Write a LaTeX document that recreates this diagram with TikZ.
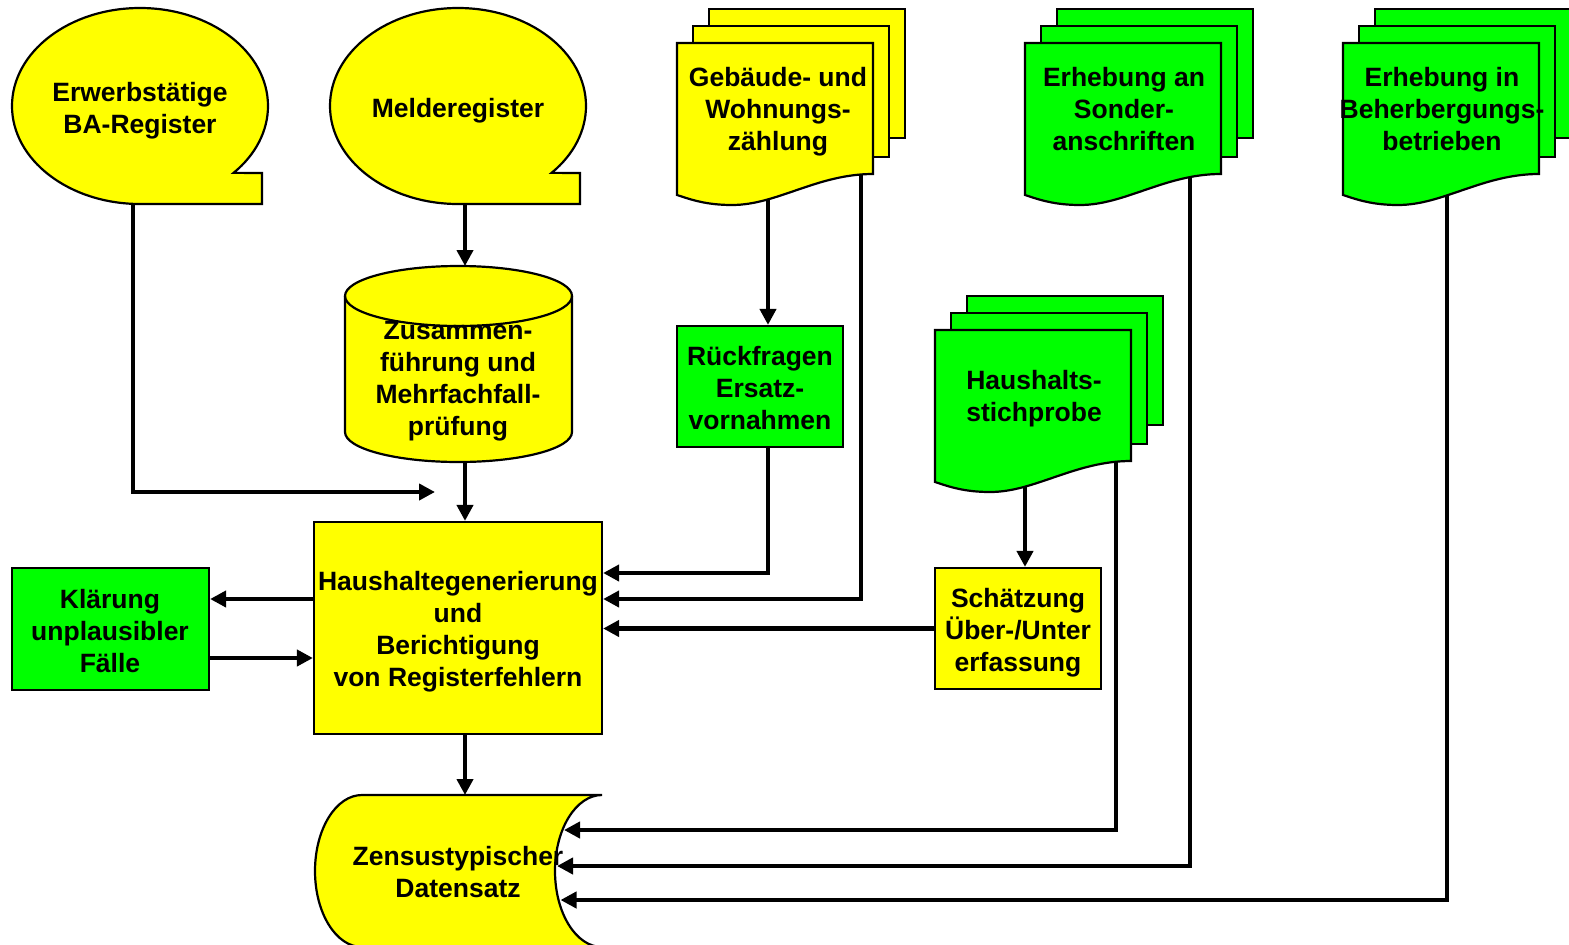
\documentclass[tikz,border=0pt]{standalone}
\usepackage{fontspec}
\setmainfont{Liberation Sans}
\usetikzlibrary{arrows.meta}
\definecolor{yel}{HTML}{FFFF00}
\definecolor{grn}{HTML}{00FF00}
\pgfdeclarelayer{bg}
\pgfsetlayers{bg,main}
\newcommand\multidocshape[3]{%
  \begin{scope}[shift={(#1,#2)}]
    \draw[#3] (32,-34) rectangle (228,95);
    \draw[#3] (16,-17) rectangle (212,114);
    \draw[#3] (0,0) -- (196,0) -- (196,131) .. controls (140,131) and (100,162) .. (55,162) .. controls (30,162) and (15,157) .. (0,152) -- cycle;
  \end{scope}}
\begin{document}
\begin{tikzpicture}[x=1pt,y=-1pt,
  border/.style={draw=black,line width=2.2pt,line join=miter},
  yshape/.style={border,fill=yel},
  gshape/.style={border,fill=grn},
  txt/.style={font=\fontsize{26.5}{32}\selectfont\bfseries,align=center,inner sep=0pt},
  conn/.style={line width=4.5pt,-{Triangle[length=16pt,width=16pt]}},
  box/.style={draw=black,line width=2.2pt,inner sep=0pt}]
\useasboundingbox (0,0) rectangle (1569,945);

% magnetic tape shapes
\draw[yshape] (140,204) arc[start angle=90,end angle=403,x radius=128,y radius=98] -- (262,173) -- (262,204) -- cycle;
\draw[yshape] (458,204) arc[start angle=90,end angle=403,x radius=128,y radius=98] -- (580,173) -- (580,204) -- cycle;
\node[txt] (e1) at (140,111) {Erwerbstätige\\BA-Register};
\node[txt] (mr) at (458,111) {Melderegister};

% cylinder
\draw[yshape] (345,296) -- (345,432) arc[start angle=180,end angle=0,x radius=113.5,y radius=30] -- (572,296) arc[start angle=0,end angle=-180,x radius=113.5,y radius=30] -- cycle;
\node[txt] (cyl) at (458,381) {Zusammen-\\führung und\\Mehrfachfall-\\prüfung};
\draw[border] (345,296) arc[start angle=180,end angle=0,x radius=113.5,y radius=30];

% multi documents
\multidocshape{677}{43}{yshape}
\multidocshape{1025}{43}{gshape}
\multidocshape{1343}{43}{gshape}
\multidocshape{935}{330}{gshape}
\node[txt] (gwz) at (778,112) {Gebäude- und\\Wohnungs-\\zählung};
\node[txt] (so) at (1124,109) {Erhebung an\\Sonder-\\anschriften};
\node[txt] (be) at (1442,109) {Erhebung in\\Beherbergungs-\\betrieben};
\node[txt] (hs) at (1034,399) {Haushalts-\\stichprobe};

% boxes
\node[box,fill=grn,minimum width=166pt,minimum height=121pt] (rueck) at (760,386.5) {};
\node[box,fill=yel,minimum width=288pt,minimum height=212pt] (hh) at (458,628) {};
\node[box,fill=grn,minimum width=197pt,minimum height=122pt] (klaer) at (110.5,629) {};
\node[box,fill=yel,minimum width=166pt,minimum height=121pt] (schaetz) at (1018,628.5) {};
\node[txt] (ruecktxt) at (760,388) {Rückfragen\\Ersatz-\\vornahmen};
\node[txt] (hhtxt) at (458,632) {Haushaltegenerierung\\und\\Berichtigung\\von Registerfehlern};
\node[txt] (klaertxt) at (110,631) {Klärung\\unplausibler\\Fälle};
\node[txt] (schaetztxt) at (1018,633) {Schätzung\\Über-/Unter\\erfassung};

% stored data
\draw[yshape] (362,795) -- (602,795) arc[start angle=-90,end angle=-270,x radius=47,y radius=76] -- (362,947) arc[start angle=90,end angle=270,x radius=47,y radius=76] -- cycle;
\node[txt] (zen) at (458,872) {Zensustypischer\\Datensatz};

% connectors
\coordinate (e1src) at (133,150);
\coordinate (e1end) at (435,492);
\coordinate (mrsrc) at (465,150);
\coordinate (cyltop) at (465,266);
\coordinate (cylbot) at (465,440);
\coordinate (gwzA) at (768,150);
\coordinate (gwzB) at (861,150);
\coordinate (c573) at (0,573);
\coordinate (c599) at (0,599);
\coordinate (c658) at (0,658);
\coordinate (zt) at (465,795);
\coordinate (hsA) at (1025,470);
\coordinate (hsB) at (1116,440);
\coordinate (soB) at (1190,150);
\coordinate (beB) at (1447,150);
\coordinate (zA) at (564,830);
\coordinate (zB) at (557,866);
\coordinate (zC) at (560.5,900);
\begin{pgfonlayer}{bg}
\draw[conn] (e1src) |- (e1end);
\draw[conn] (mrsrc) -- (cyltop);
\draw[conn] (cylbot) -- (hh.north -| cylbot);
\draw[conn] (gwzA) -- (rueck.north -| gwzA);
\draw[conn] (gwzB) |- (hh.east |- c599);
\draw[conn] (rueck.south -| gwzA) |- (hh.east |- c573);
\draw[conn] (schaetz.west) -- (hh.east |- schaetz.west);
\draw[conn] (hh.west |- c599) -- (klaer.east |- c599);
\draw[conn] (klaer.east |- c658) -- (hh.west |- c658);
\draw[conn] (hh.south -| cylbot) -- (zt);
\draw[conn] (hsA) -- (schaetz.north -| hsA);
\draw[conn] (hsB) |- (zA);
\draw[conn] (soB) |- (zB);
\draw[conn] (beB) |- (zC);
\end{pgfonlayer}
\end{tikzpicture}
\end{document}
